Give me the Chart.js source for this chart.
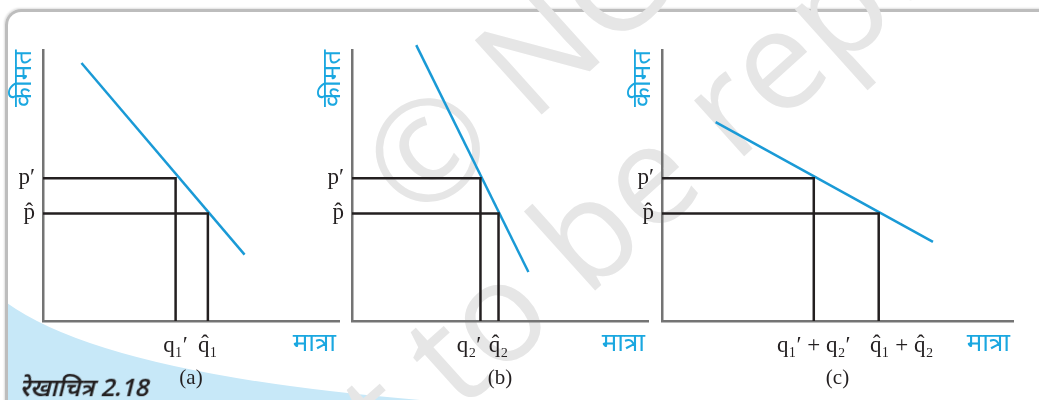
<!DOCTYPE html>
<html>
<head>
<meta charset="utf-8">
<script src="https://cdn.jsdelivr.net/npm/chart.js@4/dist/chart.umd.min.js"></script>
<style>
    html, body { margin: 0; padding: 0; background: #fff; }
    #page { position: relative; width: 1039px; height: 400px; overflow: hidden; background: #fff; }
    #frame {
        position: absolute; left: 5px; top: 9px; width: 1100px; height: 500px;
        border-top: 3px solid #bdbdbd; border-left: 3px solid #bdbdbd;
        border-top-left-radius: 16px;
        box-shadow: -1px -1px 2px rgba(0,0,0,0.12);
    }
    #deco { position: absolute; left: 0; top: 0; }
    .wm {
        position: absolute; color: #e6e6e6; font-family: "Open Sans", sans-serif;
        font-size: 140px; line-height: 1; white-space: nowrap;
        transform-origin: 0 124px; transform: rotate(-42deg);
    }
    .panel { position: absolute; top: 0; height: 400px; }
    #caption {
        position: absolute; left: 18px; top: 370px;
        font-family: "Noto Sans", sans-serif; font-weight: 600;
        font-size: 24px; color: #231f20;
        transform: skewX(-14deg); transform-origin: 0 100%;
    }
</style>
</head>
<body>
<div id="page">
    <svg id="deco" width="1039" height="400">
        <path d="M7,303 Q106,374 420,400 L7,400 Z" fill="#c7e8f8"></path>
    </svg>
    <div id="frame"></div>
    <div class="wm" style="left:418px; top:102px;">© NCERT</div>
    <div class="wm" style="left:269px; top:460px;">not to be republished</div>
    <div class="panel" style="left:0px; width:345px;"><canvas id="chartA"></canvas></div>
    <div class="panel" style="left:308px; width:346px;"><canvas id="chartB"></canvas></div>
    <div class="panel" style="left:618px; width:401px;"><canvas id="chartC"></canvas></div>
    <div id="caption">रेखाचित्र 2.18</div>
</div>
<script>
// price levels, same in all three panels
const priceValues = [52.7, 39.7];
const priceLabels = ['p\u2032', 'p\u0302'];

// panel (a)
const qtyA = [44.8, 55.7];
const qtyLabelsA = ['q\u2081\u2032', 'q\u0302\u2081'];
const demandAx = [13.0, 68.1];
const demandAy = [95.2, 24.5];

// panel (b)
const qtyB = [43.4, 49.5];
const qtyLabelsB = ['q\u2082\u2032\u2003', 'q\u0302\u2082'];
const demandBx = [21.7, 59.6];
const demandBy = [101.8, 18.1];

// panel (c)
const qtyC = [51.2, 73.1];
const qtyLabelsC = ['q\u2081\u2032 + q\u2082\u2032', '\u2003\u2003q\u0302\u2081 + q\u0302\u2082'];
const demandCx = [18.1, 91.4];
const demandCy = [73.4, 29.2];

const BLUE = '#1a9ad6';
const TEXT_BLUE = '#1aa7e0';
const INK = '#231f20';
const AXIS = '#747474';
const SERIF = '"Liberation Serif", "DejaVu Serif", serif';
const SANS = '"Noto Sans", sans-serif';

// quantity label at right end of the x axis
const qtyTitle = {
    id: 'qtyTitle',
    afterDraw(chart) {
        const { ctx, chartArea } = chart;
        ctx.save();
        ctx.font = '26px ' + SANS;
        ctx.fillStyle = TEXT_BLUE;
        ctx.textAlign = 'right';
        ctx.textBaseline = 'middle';
        ctx.fillText('मात्रा', chartArea.right - 3, chartArea.bottom + 23);
        ctx.restore();
    }
};

function makePanel(id, qty, qtyLabels, demandX, demandY, xMax, caption, yWidth) {
    const drops = qty.map((q, i) => ({
        data: [
            { x: 0, y: priceValues[i] },
            { x: q, y: priceValues[i] },
            { x: q, y: 0 }
        ],
        showLine: true,
        borderColor: INK,
        borderWidth: 2.5,
        pointRadius: 0,
        clip: false
    }));

    new Chart(document.getElementById(id), {
        type: 'scatter',
        data: {
            datasets: [
                ...drops,
                {
                    data: demandX.map((x, i) => ({ x: x, y: demandY[i] })),
                    showLine: true,
                    borderColor: BLUE,
                    borderWidth: 2.5,
                    pointRadius: 0,
                    clip: false
                }
            ]
        },
        options: {
            responsive: true,
            maintainAspectRatio: false,
            animation: false,
            layout: { padding: { top: 50, right: 6, bottom: 0, left: 0 } },
            plugins: { legend: { display: false }, tooltip: { enabled: false } },
            scales: {
                x: {
                    type: 'linear', min: 0, max: xMax,
                    grid: { display: false, drawTicks: false },
                    border: { display: true, color: AXIS, width: 2.5 },
                    afterBuildTicks: s => { s.ticks = qty.map(v => ({ value: v })); },
                    afterFit: s => { s.height = 79; },
                    ticks: {
                        autoSkip: false, maxRotation: 0, padding: 11,
                        color: INK, font: { family: SERIF, size: 23 },
                        callback: (v, i) => qtyLabels[i]
                    },
                    title: {
                        display: true, text: caption, color: INK,
                        font: { family: SERIF, size: 21 },
                        padding: { top: 0, bottom: 9 }
                    }
                },
                y: {
                    type: 'linear', min: 0, max: 100,
                    grid: { display: false, drawTicks: false },
                    border: { display: true, color: AXIS, width: 2.5 },
                    afterBuildTicks: s => { s.ticks = priceValues.map(v => ({ value: v })); },
                    afterFit: s => { s.width = yWidth; },
                    ticks: {
                        autoSkip: false, padding: 8,
                        color: INK, font: { family: SERIF, size: 23 },
                        callback: (v, i) => priceLabels[i]
                    },
                    title: {
                        display: true, text: 'कीमत', align: 'end', color: TEXT_BLUE,
                        font: { family: SANS, size: 26 },
                        padding: { top: yWidth - 35, bottom: 0 }
                    }
                }
            }
        },
        plugins: [qtyTitle]
    });
}

makePanel('chartA', qtyA, qtyLabelsA, demandAx, demandAy, 100, '(a)', 43);
makePanel('chartB', qtyB, qtyLabelsB, demandBx, demandBy, 100, '(b)', 44);
makePanel('chartC', qtyC, qtyLabelsC, demandCx, demandCy, 118.4, '(c)', 44);
</script>
</body>
</html>
